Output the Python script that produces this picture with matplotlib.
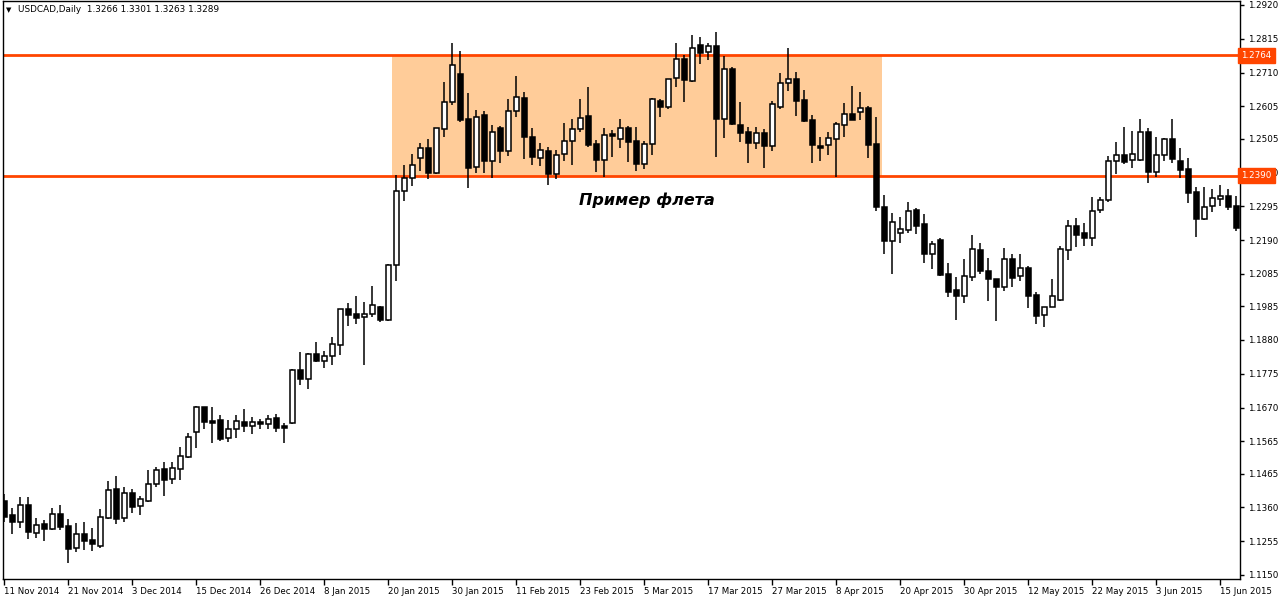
import numpy as np
import matplotlib.pyplot as plt
from matplotlib.patches import Rectangle

# USDCAD daily candles, 11 Nov 2014 .. 17 Jun 2015
opens = [1.1380, 1.1337, 1.1315, 1.1368, 1.1281, 1.1309, 1.1293, 1.1340, 1.1302, 1.1234,
         1.1278, 1.1259, 1.1240, 1.1327, 1.1417, 1.1327, 1.1405, 1.1364, 1.1380, 1.1433,
         1.1479, 1.1448, 1.1479, 1.1517, 1.1594, 1.1672, 1.1628, 1.1631, 1.1576, 1.1604,
         1.1625, 1.1613, 1.1625, 1.1619, 1.1638, 1.1613, 1.1622, 1.1787, 1.1759, 1.1836,
         1.1815, 1.1830, 1.1864, 1.1976, 1.1960, 1.1951, 1.1960, 1.1982, 1.1942, 1.2113,
         1.2342, 1.2383, 1.2445, 1.2476, 1.2398, 1.2535, 1.2619, 1.2706, 1.2566, 1.2417,
         1.2578, 1.2436, 1.2538, 1.2467, 1.2591, 1.2631, 1.2510, 1.2445, 1.2467, 1.2395,
         1.2457, 1.2498, 1.2535, 1.2575, 1.2488, 1.2439, 1.2519, 1.2504, 1.2538, 1.2498,
         1.2426, 1.2488, 1.2622, 1.2603, 1.2693, 1.2752, 1.2684, 1.2796, 1.2774, 1.2793,
         1.2566, 1.2721, 1.2547, 1.2526, 1.2491, 1.2523, 1.2482, 1.2603, 1.2678, 1.2690,
         1.2625, 1.2563, 1.2482, 1.2485, 1.2504, 1.2547, 1.2581, 1.2588, 1.2600, 1.2488,
         1.2293, 1.2187, 1.2212, 1.2221, 1.2283, 1.2240, 1.2147, 1.2190, 1.2085, 1.2035,
         1.2016, 1.2075, 1.2159, 1.2094, 1.2069, 1.2044, 1.2131, 1.2079, 1.2103, 1.2019,
         1.1957, 1.1982, 1.2004, 1.2159, 1.2234, 1.2212, 1.2196, 1.2283, 1.2315, 1.2436,
         1.2454, 1.2439, 1.2439, 1.2526, 1.2401, 1.2454, 1.2504, 1.2436, 1.2411, 1.2339,
         1.2255, 1.2296, 1.2318, 1.2327, 1.2296]
highs = [1.1402, 1.1358, 1.1392, 1.1392, 1.1327, 1.1321, 1.1358, 1.1368, 1.1324, 1.1311,
         1.1315, 1.1296, 1.1355, 1.1442, 1.1457, 1.1423, 1.1417, 1.1396, 1.1476, 1.1486,
         1.1501, 1.1501, 1.1548, 1.1591, 1.1675, 1.1672, 1.1672, 1.1647, 1.1631, 1.1647,
         1.1666, 1.1641, 1.1635, 1.1647, 1.1650, 1.1622, 1.1790, 1.1843, 1.1839, 1.1874,
         1.1846, 1.1889, 1.1976, 1.1995, 1.2016, 1.1998, 1.2047, 1.1985, 1.2116, 1.2392,
         1.2423, 1.2457, 1.2491, 1.2504, 1.2538, 1.2681, 1.2802, 1.2777, 1.2647, 1.2594,
         1.2591, 1.2547, 1.2544, 1.2628, 1.2699, 1.2650, 1.2538, 1.2491, 1.2479, 1.2470,
         1.2554, 1.2566, 1.2628, 1.2665, 1.2501, 1.2538, 1.2532, 1.2566, 1.2544, 1.2541,
         1.2498, 1.2631, 1.2628, 1.2690, 1.2802, 1.2765, 1.2827, 1.2821, 1.2802, 1.2836,
         1.2762, 1.2727, 1.2619, 1.2541, 1.2541, 1.2535, 1.2622, 1.2709, 1.2786, 1.2712,
         1.2656, 1.2578, 1.2510, 1.2526, 1.2557, 1.2616, 1.2668, 1.2650, 1.2606, 1.2572,
         1.2330, 1.2274, 1.2262, 1.2308, 1.2290, 1.2271, 1.2187, 1.2196, 1.2119, 1.2075,
         1.2131, 1.2206, 1.2181, 1.2134, 1.2069, 1.2165, 1.2147, 1.2147, 1.2110, 1.2029,
         1.1982, 1.2069, 1.2172, 1.2252, 1.2259, 1.2243, 1.2324, 1.2324, 1.2451, 1.2495,
         1.2541, 1.2529, 1.2566, 1.2538, 1.2510, 1.2507, 1.2566, 1.2476, 1.2445, 1.2355,
         1.2355, 1.2349, 1.2361, 1.2349, 1.2327]
lows = [1.1315, 1.1278, 1.1296, 1.1262, 1.1265, 1.1256, 1.1290, 1.1290, 1.1188, 1.1222,
        1.1228, 1.1225, 1.1234, 1.1324, 1.1309, 1.1315, 1.1343, 1.1337, 1.1377, 1.1423,
        1.1396, 1.1433, 1.1445, 1.1513, 1.1544, 1.1604, 1.1560, 1.1566, 1.1563, 1.1576,
        1.1594, 1.1588, 1.1604, 1.1604, 1.1594, 1.1560, 1.1619, 1.1740, 1.1728, 1.1811,
        1.1793, 1.1802, 1.1833, 1.1923, 1.1929, 1.1802, 1.1951, 1.1936, 1.1939, 1.2063,
        1.2311, 1.2358, 1.2405, 1.2380, 1.2395, 1.2510, 1.2609, 1.2557, 1.2352, 1.2398,
        1.2398, 1.2383, 1.2429, 1.2451, 1.2572, 1.2442, 1.2423, 1.2420, 1.2361, 1.2380,
        1.2436, 1.2423, 1.2526, 1.2479, 1.2401, 1.2386, 1.2448, 1.2476, 1.2432, 1.2405,
        1.2411, 1.2454, 1.2572, 1.2597, 1.2665, 1.2619, 1.2681, 1.2737, 1.2749, 1.2448,
        1.2507, 1.2547, 1.2495, 1.2429, 1.2473, 1.2414, 1.2467, 1.2597, 1.2653, 1.2575,
        1.2557, 1.2429, 1.2436, 1.2454, 1.2386, 1.2510, 1.2563, 1.2563, 1.2445, 1.2280,
        1.2147, 1.2085, 1.2181, 1.2212, 1.2209, 1.2119, 1.2100, 1.2079, 1.2013, 1.1942,
        1.1995, 1.2063, 1.2085, 1.2001, 1.1939, 1.2032, 1.2044, 1.2063, 1.1979, 1.1929,
        1.1920, 1.1982, 1.2001, 1.2128, 1.2169, 1.2172, 1.2172, 1.2274, 1.2308, 1.2395,
        1.2426, 1.2414, 1.2436, 1.2367, 1.2386, 1.2436, 1.2429, 1.2383, 1.2305, 1.2200,
        1.2252, 1.2277, 1.2296, 1.2283, 1.2218]
closes = [1.1330, 1.1315, 1.1368, 1.1284, 1.1305, 1.1293, 1.1340, 1.1299, 1.1231, 1.1278,
          1.1256, 1.1246, 1.1330, 1.1414, 1.1324, 1.1405, 1.1361, 1.1386, 1.1433, 1.1476,
          1.1445, 1.1482, 1.1520, 1.1579, 1.1672, 1.1625, 1.1622, 1.1572, 1.1604, 1.1628,
          1.1613, 1.1625, 1.1619, 1.1635, 1.1607, 1.1607, 1.1787, 1.1759, 1.1836, 1.1815,
          1.1830, 1.1867, 1.1976, 1.1957, 1.1948, 1.1960, 1.1988, 1.1942, 1.2113, 1.2342,
          1.2383, 1.2423, 1.2476, 1.2398, 1.2538, 1.2619, 1.2734, 1.2563, 1.2414, 1.2572,
          1.2436, 1.2526, 1.2467, 1.2591, 1.2634, 1.2510, 1.2448, 1.2470, 1.2395, 1.2454,
          1.2498, 1.2535, 1.2569, 1.2485, 1.2439, 1.2516, 1.2513, 1.2538, 1.2495, 1.2426,
          1.2488, 1.2628, 1.2603, 1.2690, 1.2752, 1.2687, 1.2786, 1.2771, 1.2793, 1.2566,
          1.2721, 1.2550, 1.2523, 1.2491, 1.2523, 1.2482, 1.2613, 1.2678, 1.2690, 1.2622,
          1.2560, 1.2485, 1.2476, 1.2507, 1.2550, 1.2581, 1.2563, 1.2600, 1.2485, 1.2293,
          1.2187, 1.2246, 1.2224, 1.2280, 1.2234, 1.2147, 1.2178, 1.2082, 1.2029, 1.2016,
          1.2079, 1.2162, 1.2094, 1.2069, 1.2044, 1.2131, 1.2072, 1.2103, 1.2016, 1.1954,
          1.1982, 1.2016, 1.2162, 1.2234, 1.2206, 1.2196, 1.2280, 1.2315, 1.2436, 1.2454,
          1.2432, 1.2457, 1.2526, 1.2401, 1.2454, 1.2504, 1.2442, 1.2408, 1.2336, 1.2255,
          1.2293, 1.2321, 1.2327, 1.2293, 1.2228]

date_labels = ['11 Nov 2014', '21 Nov 2014', '3 Dec 2014', '15 Dec 2014', '26 Dec 2014',
               '8 Jan 2015', '20 Jan 2015', '30 Jan 2015', '11 Feb 2015', '23 Feb 2015',
               '5 Mar 2015', '17 Mar 2015', '27 Mar 2015', '8 Apr 2015', '20 Apr 2015',
               '30 Apr 2015', '12 May 2015', '22 May 2015', '3 Jun 2015', '15 Jun 2015']
price_ticks = [1.2920, 1.2815, 1.2710, 1.2605, 1.2505, 1.2400, 1.2295, 1.2190, 1.2085,
               1.1985, 1.1880, 1.1775, 1.1670, 1.1565, 1.1465, 1.1360, 1.1255, 1.1150]

upper_level = 1.2764
lower_level = 1.2390
flat_start, flat_end = 48.4, 109.7   # candle index span of the shaded box
line_color = '#FF4500'

o = np.array(opens)
h = np.array(highs)
l = np.array(lows)
c = np.array(closes)
x = np.arange(len(o))
up = c >= o

fig = plt.figure(figsize=(12.8, 6), dpi=100)
ax = fig.add_axes([2.5 / 1280, 21 / 600, 1237.5 / 1280, 578 / 600])

# flat zone
ax.add_patch(Rectangle((flat_start, lower_level), flat_end - flat_start,
                       upper_level - lower_level, facecolor='#FFCC99',
                       edgecolor='none', zorder=1))
ax.axhline(upper_level, color=line_color, lw=2, zorder=2)
ax.axhline(lower_level, color=line_color, lw=2, zorder=2)

# candles
ax.vlines(x, l, h, color='black', lw=1.1, zorder=3)
body_h = np.maximum(np.abs(c - o), 0.00012)
ax.bar(x, body_h, bottom=np.minimum(o, c), width=0.55,
       color=np.where(up, 'white', 'black'), edgecolor='black', lw=1.1, zorder=4)

ax.text(80.3, 1.2315, 'Пример флета', fontsize=11.5, fontweight='bold',
        fontstyle='italic', ha='center', va='center', zorder=5)

ax.set_xlim(-0.25, 154.44)
ax.set_ylim(1.11375, 1.29324)

ax.set_xticks(x[::8][:len(date_labels)])
ax.set_xticklabels(date_labels, fontsize=6.2, ha='left')
ax.tick_params(axis='x', length=4, width=1, pad=2)
for lab in ax.get_xticklabels():
    lab.set_x(lab.get_position()[0])

ax.yaxis.tick_right()
ax.set_yticks(price_ticks)
ax.set_yticklabels(['%.4f' % p for p in price_ticks], fontsize=6.3)
ax.tick_params(axis='y', length=3, width=1, pad=3)

for sp in ax.spines.values():
    sp.set_linewidth(1)

# price tags for the two levels
for lvl in (upper_level, lower_level):
    ax.text(1.0012, lvl, '%.4f' % lvl, transform=ax.get_yaxis_transform(),
            fontsize=6.3, color='white', va='center', ha='left', clip_on=False,
            zorder=6,
            bbox=dict(boxstyle='square,pad=0.35', fc=line_color, ec=line_color))

fig.text(6 / 1280, 1 - 10 / 600, '▼', fontsize=5, va='center', ha='left')
fig.text(18 / 1280, 1 - 10 / 600, 'USDCAD,Daily  1.3266 1.3301 1.3263 1.3289',
         fontsize=6.4, va='center', ha='left')

fig.savefig('out.png', dpi=100)
